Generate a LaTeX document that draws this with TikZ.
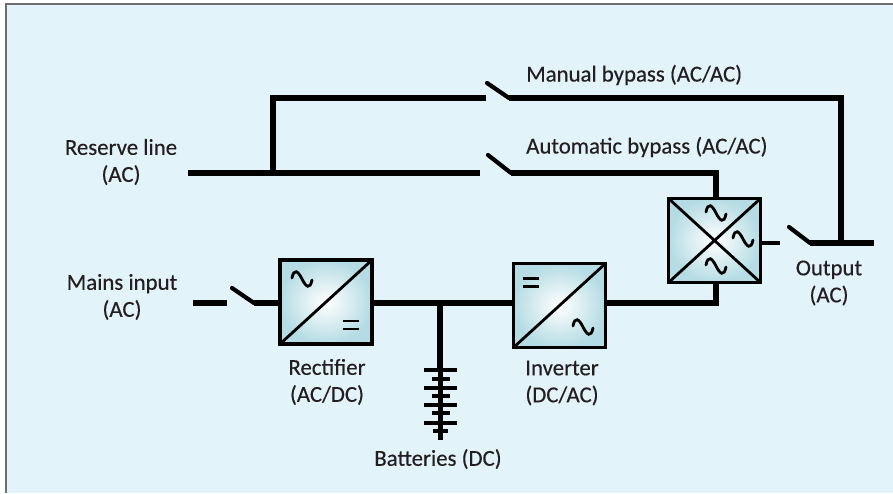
\documentclass[tikz,border=0pt]{standalone}
\usepackage{fontspec}
\setmainfont{Carlito}
\newfontfamily\labfont{Carlito}[FakeBold=0.35]
\usetikzlibrary{calc}
\definecolor{panelbg}{HTML}{E3F3FA}
\definecolor{boxedge}{HTML}{B5DCE4}
\definecolor{inktext}{HTML}{231F20}
\definecolor{framegrey}{HTML}{6E6E6E}
\tikzset{
  x=1pt,y=-1pt,
  wire/.style={line width=5.4pt,black},
  blade/.style={line width=4.2pt,black,line cap=round},
  thinwire/.style={line width=4.8pt,black},
  conv/.style={rectangle,draw=black,line width=3.4pt,minimum width=92pt,minimum height=84pt,inner sep=0pt,outer sep=0pt,inner color=white,outer color=boxedge},
  diag/.style={line width=2.8pt,black},
  sym/.style={line width=2.8pt,black,line cap=round},
  lab/.style={font=\labfont\fontsize{22.8pt}{27pt}\selectfont,text=inktext,inner sep=0pt,align=center},
  acwave/.pic={\draw[sym] (-10,-1) .. controls (-8,-11) and (-4,-8) .. (0,0) .. controls (4,8) and (8,11) .. (10,1);},
  dcsign/.pic={\draw[sym,line width=2.8pt,line cap=butt] (-8,-4) -- (8,-4) (-8,4) -- (8,4);}
}
\begin{document}
\begin{tikzpicture}
\useasboundingbox (0,0) rectangle (893,493);
\fill[white] (0,0) rectangle (893,493);
\fill[panelbg] (6,4) rectangle (893,493);
\draw[framegrey,line width=1.4pt] (6,493) -- (6,4) -- (893,4);

% converters
\node[conv] (rect) at (326,302) {};
\node[conv] (inv) at (559.5,305.5) {};
\node[conv] (sts) at (714.5,240.5) {};

% free ends of the lines
\coordinate (mainsL) at (193,303);
\coordinate (mainsR) at (227,303);
\coordinate (mainsBt) at (232,288);
\coordinate (mainsBb) at (254,303);
\coordinate (resL) at (188,173);
\coordinate (autoL) at (480,173);
\coordinate (autoBt) at (488,155);
\coordinate (autoBb) at (511,173);
\coordinate (autoC) at (716,173);
\coordinate (tee) at (273,173);
\coordinate (manC) at (273,98);
\coordinate (manL) at (486,98);
\coordinate (manBt) at (487,83);
\coordinate (manBb) at (509,98);
\coordinate (manR) at (841,98);
\coordinate (outL) at (780,243);
\coordinate (outBt) at (789,227);
\coordinate (outBb) at (810,243);
\coordinate (outR) at (874,243);
\coordinate (outT) at (841,243);
\coordinate (junc) at (440,303);
\coordinate (stsB) at (716,303);
\coordinate (batTop) at (440,370);

% wiring
\draw[wire] (mainsL) -- (mainsR);
\draw[blade] (mainsBt) -- (mainsBb);
\draw[wire] (mainsBb) -- (rect.west |- mainsBb);
\draw[wire] (rect.east |- junc) -- (inv.west |- junc);
\draw[wire] (junc) -- (batTop);
\draw[wire] (inv.east |- stsB) -- (stsB) -- (stsB |- sts.south);
\draw[wire] (resL) -- (autoL);
\draw[blade] (autoBt) -- (autoBb);
\draw[wire] (autoBb) -- (autoC) -- (autoC |- sts.north);
\draw[wire] (tee) -- (manC) -- (manL);
\draw[blade] (manBt) -- (manBb);
\draw[wire] (manBb) -- (manR) -- (outT);
\draw[thinwire] (sts.east |- outL) -- (outL);
\draw[blade] (outBt) -- (outBb);
\draw[wire] (outBb) -- (outR);

% converter diagonals and symbols
\draw[diag] (rect.south west) -- (rect.north east);
\draw[diag] (inv.south west) -- (inv.north east);
\draw[diag] (sts.south west) -- (sts.north east);
\draw[diag] (sts.north west) -- (sts.south east);
\pic at (302,279) {acwave};
\pic at (350.5,325) {dcsign};
\pic at (531,282.5) {dcsign};
\pic at (583,327) {acwave};
\pic at (716,213) {acwave};
\pic at (743,239) {acwave};
\pic at (716,266) {acwave};

% battery
\foreach \yy in {370,388,405,423} \draw[line width=4.8pt] (424,\yy) -- (457,\yy);
\foreach \yy in {379,396,413} \draw[line width=4.2pt] (432,\yy) -- (450,\yy);
\draw[line width=4pt] (433,431) -- (448,431);
\draw[line width=5pt] (440,370) -- (440,440);

% labels
\node[lab] (lres) at (121,162) {Reserve line\\(AC)};
\node[lab] (lmain) at (122,297) {Mains input\\(AC)};
\node[lab] (lrect) at (327,382) {Rectifier\\(AC/DC)};
\node[lab] (linv) at (562,383) {Inverter\\(DC/AC)};
\node[lab] (lout) at (829,283) {Output\\(AC)};
\node[lab] (lbat) at (438,459) {Batteries (DC)};
\node[lab,anchor=west] (lman) at (526,75) {Manual bypass (AC/AC)};
\node[lab,anchor=west] (lauto) at (526,147) {Automatic bypass (AC/AC)};
\end{tikzpicture}
\end{document}
